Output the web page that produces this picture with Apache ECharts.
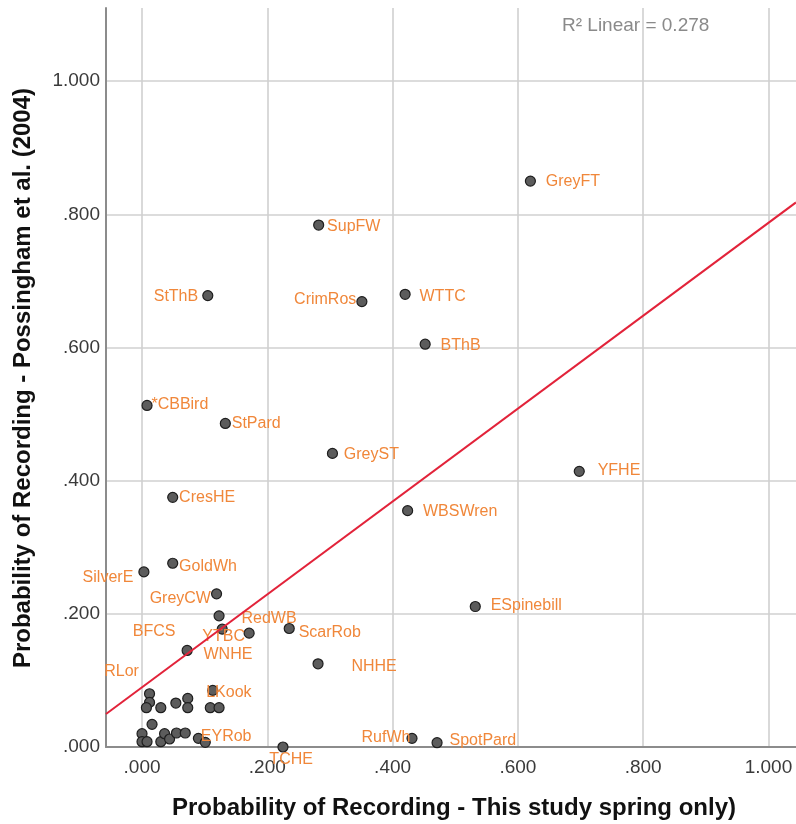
<!DOCTYPE html>
<html>
<head>
<meta charset="utf-8">
<script src="https://cdn.jsdelivr.net/npm/echarts@6/dist/echarts.min.js"></script>
<style>
  html, body { margin: 0; padding: 0; background: #fff; }
  #chart { width: 796px; height: 824px; }
</style>
</head>
<body>
<div id="chart"></div>
<script>
// Species codes (empty string = unlabelled point)
const species = [
  'GreyFT', 'SupFW', 'StThB', 'CrimRos', 'WTTC', 'BThB', '*CBBird', 'StPard',
  'GreyST', 'CresHE', 'YFHE', 'WBSWren', 'GoldWh', 'SilverE', 'GreyCW', 'RedWB',
  'YTBC', 'BFCS', 'WNHE', 'RLor', 'LKook', 'EYRob', 'TCHE', 'ScarRob',
  'NHHE', 'RufWh', 'SpotPard', 'ESpinebill',
  '', '', '', '', '', '', '', '', '', '', '', '', '', '', '', '', '', ''
];
// Probability of recording - this study (spring only)
const thisStudy = [
  0.620, 0.282, 0.105, 0.351, 0.420, 0.452, 0.008, 0.133,
  0.304, 0.049, 0.698, 0.424, 0.049, 0.003, 0.119, 0.123,
  0.128, 0.171, 0.072, 0.012, 0.113, 0.090, 0.225, 0.235,
  0.281, 0.431, 0.471, 0.532,
  0.012, 0.007, 0.030, 0.054, 0.073, 0.073, 0.109, 0.123,
  0.016, 0.000, 0.000, 0.008, 0.030, 0.036, 0.044, 0.055, 0.069, 0.101
];
// Probability of recording - Possingham et al. (2004)
const possingham = [
  0.850, 0.784, 0.678, 0.669, 0.680, 0.605, 0.513, 0.486,
  0.441, 0.375, 0.414, 0.355, 0.276, 0.263, 0.230, 0.197,
  0.177, 0.171, 0.145, 0.080, 0.085, 0.013, 0.000, 0.178,
  0.125, 0.013, 0.0065, 0.211,
  0.067, 0.059, 0.059, 0.066, 0.073, 0.059, 0.059, 0.059,
  0.034, 0.020, 0.008, 0.008, 0.008, 0.020, 0.012, 0.021, 0.021, 0.007
];
const tickValues = [0, 0.2, 0.4, 0.6, 0.8, 1.0];

// Linear fit reported for the scatter
const fitIntercept = 0.0897;
const fitSlope = 0.6976;
const rSquared = 0.278;

const xRange = [-0.0575, 1.044];
const yRange = [0, 1.11];

// Label placement: [text align, dx, dy] from the point centre, in pixels
const labelPlacement = {
  'GreyFT': ['left', 16, -1], 'SupFW': ['left', 9, 0], 'StThB': ['right', -9, -1],
  'CrimRos': ['right', -5, -4], 'WTTC': ['left', 15, 0], 'BThB': ['left', 16, -1],
  '*CBBird': ['left', 5, -3], 'StPard': ['left', 7, -2], 'GreyST': ['left', 12, -1],
  'CresHE': ['left', 7, -2], 'YFHE': ['left', 19, -3], 'WBSWren': ['left', 16, -1],
  'GoldWh': ['left', 7, 1], 'SilverE': ['right', -10, 4], 'GreyCW': ['right', -5, 3],
  'RedWB': ['left', 23, 1], 'YTBC': ['center', 2, 6], 'BFCS': ['right', -73, -3],
  'WNHE': ['left', 17, 2], 'RLor': ['right', -10, -24], 'LKook': ['left', -6, 0],
  'EYRob': ['left', 3, -4], 'TCHE': ['left', -13, 11], 'ScarRob': ['left', 10, 2],
  'NHHE': ['left', 34, 1], 'RufWh': ['right', -1, -3], 'SpotPard': ['left', 13, -4],
  'ESpinebill': ['left', 16, -3]
};
// Canvas 'middle' sits a little above the visual centre of the glyphs
const LABEL_BASELINE_SHIFT = 2.5;

const SYMBOL = 10;
const FONT = '"Liberation Sans", Arial, sans-serif';
const fmt = v => v.toFixed(3).replace(/^0/, '');

const points = species.map((name, i) => {
  const item = { name: name, value: [thisStudy[i], possingham[i]] };
  const p = labelPlacement[name];
  if (p) {
    item.label = {
      show: true,
      formatter: name,
      position: [p[1] + SYMBOL / 2, p[2] + SYMBOL / 2 + LABEL_BASELINE_SHIFT],
      align: p[0],
      verticalAlign: 'middle'
    };
  }
  return item;
});

const fitLine = xRange.map(x => [x, fitIntercept + fitSlope * x]);

const chart = echarts.init(document.getElementById('chart'));
chart.setOption({
  animation: false,
  backgroundColor: '#ffffff',
  grid: { left: 106, right: 0, top: 8, bottom: 77, containLabel: false },
  xAxis: {
    type: 'value', min: xRange[0], max: xRange[1],
    axisLine: { show: true, onZero: false, lineStyle: { color: '#8c8c8c', width: 2 } },
    axisTick: { show: false, customValues: tickValues },
    axisLabel: {
      customValues: tickValues, formatter: fmt, margin: 11,
      color: '#3a3a3a', fontSize: 19, fontFamily: FONT
    },
    splitLine: { show: true, lineStyle: { color: '#d0d0d0', width: 1.6 } }
  },
  yAxis: {
    type: 'value', min: yRange[0], max: yRange[1],
    axisLine: { show: true, onZero: false, lineStyle: { color: '#8c8c8c', width: 2 } },
    axisTick: { show: false, customValues: tickValues },
    axisLabel: {
      customValues: tickValues, formatter: fmt, margin: 6,
      color: '#3a3a3a', fontSize: 19, fontFamily: FONT
    },
    splitLine: { show: true, lineStyle: { color: '#d0d0d0', width: 1.6 } }
  },
  graphic: [
    {
      type: 'text', left: 562, top: 16, z: 100,
      style: {
        text: 'R² Linear = ' + rSquared.toFixed(3),
        fill: '#8a8a8a', font: '19px ' + FONT
      }
    },
    {
      type: 'text', x: 454, y: 808, z: 100,
      style: {
        text: 'Probability of Recording - This study spring only)',
        fill: '#111', font: 'bold 24px ' + FONT,
        align: 'center', verticalAlign: 'middle'
      }
    },
    {
      type: 'text', x: 23, y: 378, rotation: Math.PI / 2, z: 100,
      style: {
        text: 'Probability of Recording - Possingham et al. (2004)',
        fill: '#111', font: 'bold 24px ' + FONT,
        align: 'center', verticalAlign: 'middle'
      }
    }
  ],
  series: [
    {
      type: 'scatter',
      symbolSize: SYMBOL,
      itemStyle: { color: '#5c5c5c', borderColor: '#1e1e1e', borderWidth: 1.2, opacity: 1 },
      label: { color: '#f0873a', fontSize: 16, fontFamily: FONT },
      emphasis: { disabled: true },
      data: points,
      z: 3
    },
    {
      type: 'line',
      data: fitLine,
      symbol: 'none',
      lineStyle: { color: '#e2233a', width: 2 },
      emphasis: { disabled: true },
      z: 4
    }
  ]
});
</script>
</body>
</html>
